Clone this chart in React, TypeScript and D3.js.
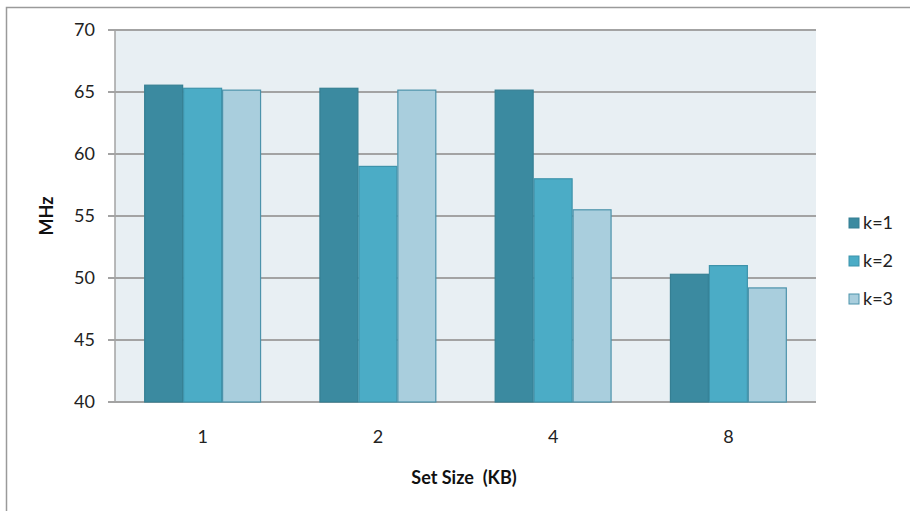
import React from "react";
import * as d3 from "d3";

const categories = ["1", "2", "4", "8"];
const seriesNames = ["k=1", "k=2", "k=3"];
const k1 = [65.55, 65.3, 65.15, 50.3];
const k2 = [65.3, 59.0, 58.0, 51.0];
const k3 = [65.15, 65.15, 55.5, 49.2];
const yTicks = [40, 45, 50, 55, 60, 65, 70];

const fills = ["#3B8AA0", "#4BACC6", "#A9CEDD"];
const strokes = ["#357F93", "#3D93AB", "#4C93AB"];

const W = 910;
const H = 511;
const left = 115;
const right = 816;
const top = 30;
const bottom = 402;
const font = "Lato, 'Open Sans', sans-serif";

export default function App() {
  const series = [k1, k2, k3];
  const x = d3.scaleBand<string>().domain(categories).range([left, right]).paddingInner(0.333).paddingOuter(0.1665);
  const xs = d3.scaleBand<number>().domain([0, 1, 2]).range([0, x.bandwidth()]);
  const y = d3.scaleLinear().domain([40, 70]).range([bottom, top]);

  return (
    <svg width={W} height={H} style={{ position: "absolute", left: 0, top: 0, fontFamily: font }}>
      <rect x={0} y={0} width={W} height={H} fill="#fff" />
      <path d={`M6.5,${H + 5} V7.5 H${W + 5}`} fill="none" stroke="#9a9a9a" strokeWidth={1.5} />
      <rect x={left} y={top} width={right - left} height={bottom - top} fill="#E8EFF3" />
      {yTicks.map((t) => (
        <g key={t}>
          <line x1={left - 7} x2={right} y1={y(t)} y2={y(t)} stroke="#A3A3A3" strokeWidth={2} />
          <text x={left - 20} y={y(t)} dy="0.35em" textAnchor="end" fontSize={18} fill="#222">
            {t}
          </text>
        </g>
      ))}
      <line x1={left} x2={left} y1={top} y2={bottom} stroke="#A3A3A3" strokeWidth={1.5} />
      {categories.map((c, i) => (
        <g key={c}>
          {series.map((s, j) => {
            const bx = (x(c) as number) + (xs(j) as number);
            const by = y(s[i]);
            return (
              <rect
                key={j}
                x={bx + 0.5}
                y={by}
                width={xs.bandwidth() - 1}
                height={bottom - by}
                fill={fills[j]}
                stroke={strokes[j]}
                strokeWidth={1.2}
              />
            );
          })}
          <text x={(x(c) as number) + x.bandwidth() / 2} y={437} dy="0.35em" textAnchor="middle" fontSize={18} fill="#222">
            {c}
          </text>
        </g>
      ))}
      <text x={464} y={478} dy="0.35em" textAnchor="middle" fontSize={18} fontWeight="bold" fill="#111">
        Set Size{"\u00a0\u00a0"}(KB)
      </text>
      <text transform="translate(47,216) rotate(-90)" dy="0.35em" textAnchor="middle" fontSize={18} fontWeight="bold" fill="#111">
        MHz
      </text>
      {seriesNames.map((n, j) => (
        <g key={n} transform={`translate(849,${223 + j * 38})`}>
          <rect x={0} y={-5} width={10} height={10} fill={fills[j]} stroke={strokes[j]} strokeWidth={1} />
          <text x={14} y={0} dy="0.35em" fontSize={18} fill="#222">
            {n}
          </text>
        </g>
      ))}
    </svg>
  );
}
